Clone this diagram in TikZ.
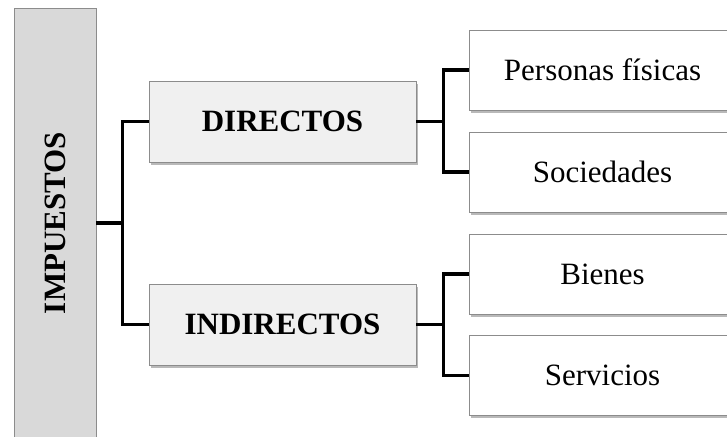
\documentclass[tikz,border=0pt]{standalone}
\usepackage{fontspec}
\setmainfont{Liberation Serif}
\usetikzlibrary{shadows, positioning}

\begin{document}
\begin{tikzpicture}[x=1pt,y=1pt,
  box/.style={rectangle,draw=gray!90,line width=0.8pt,minimum width=267pt,
    minimum height=81pt,inner sep=0pt,font=\fontsize{31}{36}\selectfont,
    drop shadow={shadow xshift=1.8pt,shadow yshift=-2.8pt,opacity=0.55,fill=gray}},
  main node/.style={box,fill=gray!12,font=\fontsize{31}{36}\selectfont\bfseries},
  leaf node/.style={box,fill=white,minimum height=80pt},
  root node/.style={rectangle,draw=gray!90,line width=0.8pt,fill=gray!30,
    minimum width=82pt,minimum height=430pt,inner sep=0pt},
  conn/.style={line width=3.2pt,black}]
  \useasboundingbox (0,0) rectangle (727,436);
  \clip (0,0) rectangle (727,436);

  % root
  \node[root node] (imp) at (55,213) {};
  \node[rotate=90,font=\fontsize{31}{36}\selectfont\bfseries] (impt) at (imp) {IMPUESTOS};

  % second level
  \node[main node] (dir) at (282.5,314.5) {DIRECTOS};
  \node[main node] (ind) at (282.5,111.5) {INDIRECTOS};

  % leaves
  \node[leaf node] (pf)  at (602.5,366) {Personas físicas};
  \node[leaf node] (soc) at (602.5,264) {Sociedades};
  \node[leaf node] (bie) at (602.5,162) {Bienes};
  \node[leaf node] (ser) at (602.5,60.5) {Servicios};

  % connectors
  \draw[conn] (imp.east) -- ++(26,0) coordinate (j1);
  \draw[conn] (dir.west) -| (j1) |- (ind.west);
  \draw[conn] (dir.east) -- ++(27,0) coordinate (j2);
  \draw[conn] (pf.west) -| (j2) |- (soc.west);
  \draw[conn] (ind.east) -- ++(27,0) coordinate (j3);
  \draw[conn] (bie.west) -| (j3) |- (ser.west);
\end{tikzpicture}
\end{document}
